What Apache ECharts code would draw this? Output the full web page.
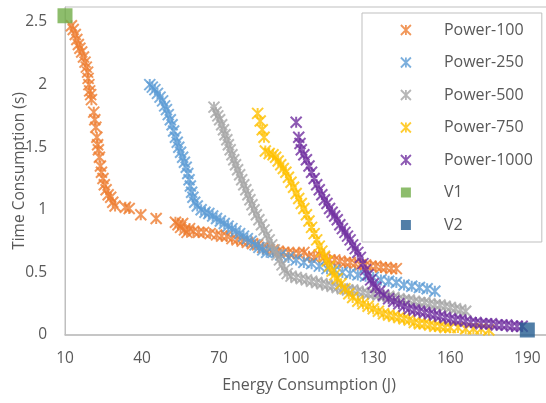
<!DOCTYPE html>
<html><head><meta charset="utf-8">
<script src="https://cdn.jsdelivr.net/npm/echarts@6/dist/echarts.min.js"></script>
<style>html,body{margin:0;padding:0;background:#fff}#c{width:546px;height:403px}</style>
</head><body><div id="c"></div>
<script>
const seriesNames = ['Power-100','Power-250','Power-500','Power-750','Power-1000','V1','V2'];
const xTicks = [10,40,70,100,130,160,190];
const yTicks = [0,0.5,1,1.5,2,2.5];

const power100 = [[12.5,2.47],[13.2,2.44],[14,2.40],[14.6,2.36],[15.2,2.32],[15.8,2.29],[16.5,2.26],[17.2,2.22],[17.8,2.18],[18.3,2.14],[18.8,2.10],[19.0,2.05],[19.3,2.00],[19.6,1.95],[20.0,1.92],[20.3,1.88],[21.2,1.78],[21.6,1.72],[22.0,1.66],[22.4,1.58],[22.7,1.52],[23.0,1.48],[23.4,1.42],[23.8,1.35],[24.2,1.30],[24.8,1.25],[25.3,1.20],[26.0,1.16],[26.8,1.12],[27.8,1.10],[28.6,1.06],[29.5,1.03],[33.5,1.02],[35,1.01],[39.5,0.96],[45.5,0.93],[53.0,0.90],[54.0,0.88],[55.0,0.86],[55.8,0.89],[56.5,0.84],[57.5,0.82],[58.5,0.85],[60,0.83],[62,0.82],[64,0.82],[66.5,0.81],[69,0.80],[71,0.79],[73,0.79],[75,0.77],[77,0.76],[79,0.75],[81,0.74],[83,0.73],[85,0.72],[87,0.70],[89,0.69],[91,0.68],[93,0.67],[95,0.66],[97,0.66],[99,0.65],[101,0.65],[103,0.66],[105,0.63],[107,0.62],[109,0.64],[111,0.62],[113,0.60],[115,0.60],[117,0.59],[119,0.58],[121,0.58],[123,0.57],[125,0.56],[127,0.56],[129,0.55],[131,0.55],[133,0.54],[135,0.54],[137,0.53],[139,0.53]];
const power250 = [[43,2.00],[44,1.98],[45,1.96],[46,1.93],[47,1.90],[48,1.87],[48.8,1.83],[49.5,1.80],[50.2,1.76],[51,1.72],[51.7,1.68],[52.3,1.63],[53,1.58],[53.7,1.54],[54.3,1.50],[55,1.46],[55.8,1.42],[56.5,1.38],[57.2,1.34],[57.8,1.29],[58.3,1.24],[58.8,1.19],[59.3,1.14],[59.8,1.10],[60.5,1.06],[61.5,1.03],[63,1.00],[64.5,0.98],[66,0.97],[67.5,0.95],[69,0.93],[70.5,0.91],[72,0.89],[73.5,0.87],[75,0.85],[76.5,0.83],[78,0.81],[79.5,0.79],[81,0.77],[82.5,0.75],[84,0.72],[85.5,0.70],[87,0.68],[88.5,0.66],[91,0.66],[94,0.64],[97,0.62],[100,0.60],[103,0.58],[106,0.57],[109,0.55],[112,0.53],[115,0.52],[118,0.50],[121,0.49],[124,0.48],[127,0.47],[130,0.46],[133,0.44],[136,0.43],[139,0.42],[142,0.40],[145,0.39],[148,0.38],[151,0.37],[154,0.35]];
const power500 = [[68,1.82],[68.8,1.78],[69.5,1.75],[70.2,1.72],[71,1.68],[71.7,1.64],[72.3,1.60],[73,1.56],[73.6,1.52],[74.3,1.48],[75,1.44],[75.7,1.40],[76.4,1.36],[77.2,1.32],[78,1.28],[78.8,1.24],[79.6,1.20],[80.4,1.16],[81.2,1.12],[82,1.08],[82.8,1.04],[83.6,1.00],[84.5,0.96],[85.5,0.92],[86.5,0.88],[87.5,0.84],[88.5,0.80],[89.5,0.76],[90.5,0.72],[91.5,0.68],[92.5,0.64],[93.5,0.60],[94.5,0.56],[95.5,0.52],[96.5,0.49],[98,0.47],[100,0.46],[102,0.45],[104,0.44],[106,0.43],[108,0.42],[110,0.41],[112,0.40],[114,0.39],[116,0.38],[118,0.37],[120,0.36],[122,0.36],[124,0.35],[126,0.34],[128,0.33],[130,0.33],[132,0.32],[134,0.31],[136,0.31],[138,0.30],[140,0.29],[142,0.28],[144,0.28],[146,0.27],[148,0.26],[150,0.26],[152,0.25],[154,0.24],[156,0.24],[158,0.23],[160,0.22],[162,0.21],[164,0.20],[166,0.19]];
const power750 = [[85,1.77],[86,1.71],[86.8,1.64],[87.5,1.58],[88,1.47],[89.5,1.45],[91,1.44],[92,1.42],[93,1.39],[94,1.36],[95,1.33],[96,1.30],[97,1.26],[98,1.22],[99,1.18],[100,1.13],[101,1.09],[102,1.05],[103,1.01],[104,0.96],[105,0.91],[106,0.86],[107,0.81],[108,0.76],[109,0.71],[110,0.67],[111,0.63],[112,0.59],[113,0.55],[114,0.51],[115,0.48],[116,0.45],[117.5,0.41],[119,0.37],[120.5,0.33],[122,0.30],[124,0.27],[126,0.25],[128,0.23],[130,0.21],[132,0.19],[134,0.17],[136,0.16],[138,0.15],[140,0.14],[142,0.13],[144,0.12],[146,0.10],[148,0.09],[150,0.09],[152,0.08],[154,0.07],[156,0.07],[158,0.06],[160,0.06],[163,0.06],[166,0.05],[169,0.05],[172,0.05],[175,0.04]];
const power1000 = [[100,1.70],[101,1.58],[101.5,1.53],[102,1.48],[103,1.44],[104,1.40],[105,1.35],[106,1.30],[107,1.25],[108,1.20],[109,1.16],[110,1.12],[111,1.08],[112,1.05],[113,1.01],[114,0.98],[115,0.95],[116,0.92],[117,0.88],[118,0.85],[119,0.82],[120,0.79],[121,0.76],[122,0.72],[123,0.69],[124,0.66],[125,0.62],[126,0.57],[127,0.52],[128,0.48],[129,0.44],[130,0.41],[131,0.38],[132.5,0.35],[134,0.32],[136,0.29],[138,0.27],[140,0.25],[142,0.23],[144,0.21],[146,0.20],[148,0.19],[150,0.18],[152,0.17],[154,0.16],[156,0.15],[158,0.14],[160,0.13],[162,0.12],[164,0.12],[166,0.11],[168,0.10],[170,0.10],[172,0.09],[174,0.09],[176,0.09],[178,0.08],[180,0.08],[182,0.08],[184,0.07],[186,0.07],[188,0.07]];
const v1 = [[10,2.55]];
const v2 = [[190,0.04]];

const colors = ['#ED7D31','#5B9BD5','#A5A5A5','#FFC000','#7030A0','#70AD47','#255E91'];
const star = 'path://M0,0L10,10M10,0L0,10M5,0L5,10';
const dataSets = [power100,power250,power500,power750,power1000,v1,v2];

const series = dataSets.map((d,i)=>{
  const isV = i>=5;
  return {
    name: seriesNames[i], type:'scatter', data:d,
    symbol: isV ? 'rect' : star,
    symbolSize: isV ? 15 : 11,
    itemStyle: isV ? {color:colors[i]} : {color:colors[i], borderColor:colors[i], borderWidth:2},
    z: isV ? 5 : 2
  };
});

const font = '"Open Sans", Lato, sans-serif';
const chart = echarts.init(document.getElementById('c'), null, {renderer:'canvas'});
chart.setOption({
  animation:false,
  backgroundColor:'#fff',
  grid:{left:65, top:7, right:-7, bottom:68, show:true, borderColor:'#bfbfbf', borderWidth:1, outerBoundsMode:'none', containLabel:false},
  xAxis:{type:'value', min:10, max:200, interval:30,
    name:'Energy Consumption (J)', nameLocation:'middle', nameGap:42, nameMoveOverlap:false,
    nameTextStyle:{color:'#595959', fontSize:16, fontFamily:font},
    axisLine:{show:true, lineStyle:{color:'#bfbfbf', width:1.5}}, axisTick:{show:false}, splitLine:{show:false},
    axisLabel:{color:'#595959', fontSize:15.5, fontFamily:font, margin:16, showMaxLabel:false,
      formatter:v=> xTicks.includes(v)? String(v):''}},
  yAxis:{type:'value', min:0, max:2.62, interval:0.5,
    name:'Time Consumption (s)', nameLocation:'middle', nameGap:37, nameMoveOverlap:false,
    nameTextStyle:{color:'#595959', fontSize:15.5, fontFamily:font},
    axisLine:{show:true, lineStyle:{color:'#bfbfbf', width:1}}, axisTick:{show:false}, splitLine:{show:false},
    axisLabel:{color:'#595959', fontSize:15.5, fontFamily:font, margin:18, showMaxLabel:false,
      formatter:v=> yTicks.includes(v)? String(v):''}},
  legend:{orient:'vertical', left:362, top:13, padding:[8,9,8,38], itemGap:14.5,
    itemWidth:10, itemHeight:10, backgroundColor:'#fff', borderColor:'#bfbfbf', borderWidth:1,
    data: seriesNames.map((n,i)=>({name:n, icon: i>=5 ? 'rect' : star, itemStyle: i>=5? {color:colors[i]} : {color:colors[i], borderColor:colors[i], borderWidth:1.8}})),
    textStyle:{color:'#595959', fontSize:16, fontFamily:font, lineHeight:18, padding:[0,0,0,28]}},
  series: series
});
</script></body></html>
